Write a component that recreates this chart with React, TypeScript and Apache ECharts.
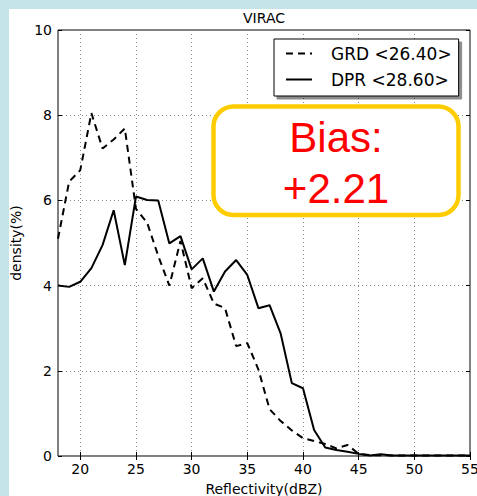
import React, { useEffect, useRef } from 'react';
import * as echarts from 'echarts';

const reflectivity = [18, 19, 20, 21, 22, 23, 24, 25, 26, 27, 28, 29, 30, 31, 32, 33, 34, 35, 36, 37, 38, 39, 40, 41, 42, 43, 44, 45, 46, 47, 48, 49, 50, 51, 52, 53, 54, 55];
const grdDensity = [5.1, 6.44, 6.71, 8.05, 7.22, 7.43, 7.69, 5.8, 5.48, 4.7, 4.0, 5.05, 3.94, 4.17, 3.58, 3.47, 2.58, 2.65, 2.03, 1.1, 0.82, 0.6, 0.42, 0.35, 0.28, 0.18, 0.26, 0.05, 0.02, 0.02, 0.01, 0.01, 0.01, 0.01, 0.01, 0.01, 0.01, 0.01];
const dprDensity = [4.0, 3.97, 4.09, 4.41, 4.95, 5.77, 4.48, 6.09, 6.01, 6.0, 4.99, 5.16, 4.38, 4.64, 3.86, 4.33, 4.6, 4.25, 3.47, 3.54, 2.87, 1.71, 1.59, 0.61, 0.2, 0.14, 0.1, 0.05, 0.01, 0.04, 0.01, 0.01, 0.01, 0.01, 0.01, 0.01, 0.01, 0.01];
const xTickValues = [20, 25, 30, 35, 40, 45, 50, 55];
const seriesNames = ['GRD <26.40>', 'DPR <28.60>'];
const titleText = 'VIRAC';
const xAxisName = 'Reflectivity(dBZ)';
const yAxisName = 'density(%)';
const biasLabel = 'Bias:';
const biasValue = '+2.21';

const FONT = 'DejaVu Sans';
const GRID_LINE = { show: true, lineStyle: { color: '#8a8a8a', width: 1, type: [1, 3] as any } };

export default function App() {
  const ref = useRef<HTMLDivElement>(null);
  useEffect(() => {
    const chart = echarts.init(ref.current!, null, { renderer: 'svg' });
    chart.setOption({
      animation: false,
      grid: {
        left: 49, top: 21, width: 412, height: 426,
        containLabel: false, outerBoundsMode: 'none',
        show: true, borderColor: '#000', borderWidth: 1, backgroundColor: 'transparent',
      },
      xAxis: [
        {
          type: 'value', min: 18, max: 55, position: 'bottom',
          name: xAxisName, nameLocation: 'middle', nameGap: 26,
          nameTextStyle: { fontFamily: FONT, fontSize: 14, color: '#000' },
          axisLine: { show: false },
          axisTick: { show: true, inside: true, length: 4, customValues: xTickValues, lineStyle: { color: '#000' } },
          axisLabel: { customValues: xTickValues, fontFamily: FONT, fontSize: 14, color: '#000', margin: 6 },
          splitLine: GRID_LINE,
        },
        {
          type: 'value', min: 18, max: 55, position: 'top',
          axisLine: { show: false },
          axisTick: { show: true, inside: true, length: 4, customValues: xTickValues, lineStyle: { color: '#000' } },
          axisLabel: { show: false },
          splitLine: { show: false },
        },
      ],
      yAxis: [
        {
          type: 'value', min: 0, max: 10, interval: 2, position: 'left',
          name: yAxisName, nameLocation: 'middle', nameGap: 28,
          nameTextStyle: { fontFamily: FONT, fontSize: 14, color: '#000' },
          axisLine: { show: false },
          axisTick: { show: true, inside: true, length: 4, lineStyle: { color: '#000' } },
          axisLabel: { fontFamily: FONT, fontSize: 14, color: '#000', margin: 6 },
          splitLine: GRID_LINE,
        },
        {
          type: 'value', min: 0, max: 10, interval: 2, position: 'right',
          axisLine: { show: false },
          axisTick: { show: true, inside: true, length: 4, lineStyle: { color: '#000' } },
          axisLabel: { show: false },
          splitLine: { show: false },
        },
      ],
      legend: {
        data: seriesNames,
        orient: 'vertical',
        left: 265, top: 30,
        itemWidth: 26, itemHeight: 14, itemGap: 9,
        padding: [6, 7, 8, 11],
        backgroundColor: '#fff',
        borderColor: '#000', borderWidth: 1,
        shadowColor: 'rgba(0,0,0,0.45)', shadowBlur: 0, shadowOffsetX: 3, shadowOffsetY: 3,
        itemStyle: { opacity: 0 },
        textStyle: { fontFamily: FONT, fontSize: 17, color: '#000', padding: [0, 0, 0, 14] },
      },
      graphic: [
        { type: 'text', x: 255, y: 9, style: { text: titleText, fontFamily: FONT, fontSize: 14, fill: '#000', align: 'center', verticalAlign: 'middle' } },
        { type: 'rect', shape: { x: 204.5, y: 97.5, width: 245, height: 108.5, r: 20 }, style: { fill: '#fff', stroke: '#ffcc00', lineWidth: 4.5 }, z: 10 },
        { type: 'text', x: 327, y: 128, z: 11, style: { text: biasLabel, fontFamily: 'Liberation Sans', fontSize: 42, fill: '#ff0000', align: 'center', verticalAlign: 'middle' } },
        { type: 'text', x: 327, y: 179, z: 11, style: { text: biasValue, fontFamily: 'Liberation Sans', fontSize: 42, fill: '#ff0000', align: 'center', verticalAlign: 'middle' } },
      ],
      series: [
        {
          name: seriesNames[0], type: 'line', symbol: 'none', xAxisIndex: 0, yAxisIndex: 0,
          lineStyle: { color: '#000', width: 2, type: [7, 5] },
          itemStyle: { color: '#000' },
          data: reflectivity.map((x, i) => [x, grdDensity[i]]),
        },
        {
          name: seriesNames[1], type: 'line', symbol: 'none', xAxisIndex: 0, yAxisIndex: 0,
          lineStyle: { color: '#000', width: 2, type: 'solid' },
          itemStyle: { color: '#000' },
          data: reflectivity.map((x, i) => [x, dprDensity[i]]),
        },
      ],
    });
    return () => chart.dispose();
  }, []);
  return (
    <div style={{ position: 'fixed', left: 0, top: 0, width: 477, height: 496, background: '#c4e4e8' }}>
      <div ref={ref} style={{ position: 'absolute', left: 9, top: 9, width: 468, height: 487, background: '#fff' }} />
    </div>
  );
}
